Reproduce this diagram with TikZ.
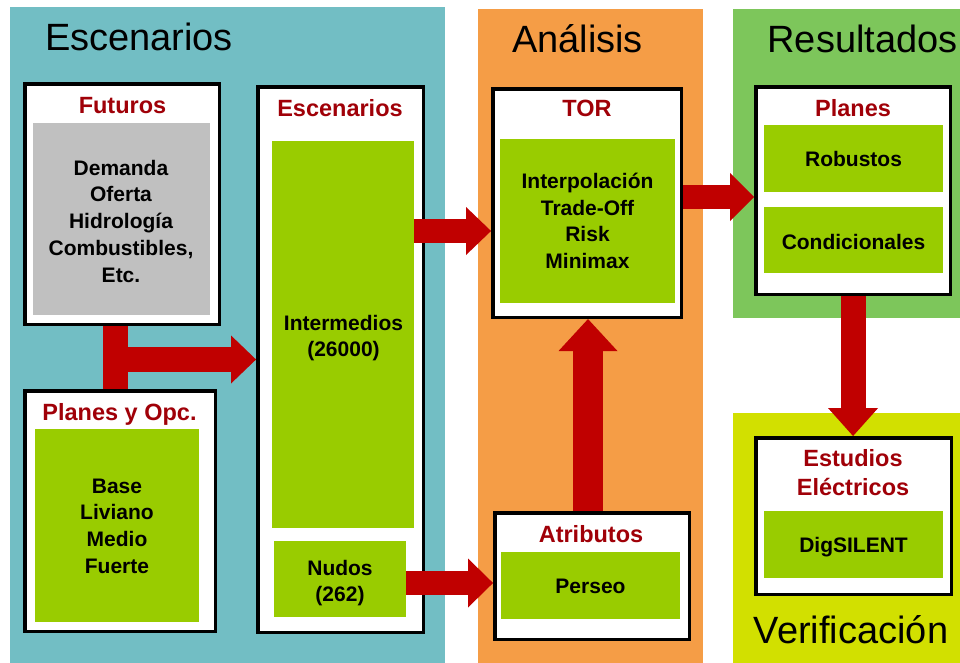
\documentclass[tikz,border=0pt]{standalone}
\usepackage{fontspec}
\setmainfont{Liberation Sans}
\usetikzlibrary{arrows.meta,calc}
\definecolor{pteal}{HTML}{72BEC4}
\definecolor{porange}{HTML}{F59D46}
\definecolor{pgreen}{HTML}{7DC65B}
\definecolor{pyellow}{HTML}{D2E000}
\definecolor{igreen}{HTML}{99CC00}
\definecolor{igray}{HTML}{C0C0C0}
\definecolor{ared}{HTML}{C00000}
\definecolor{lred}{HTML}{A00008}
\tikzset{
  whitebox/.style={draw=black, line width=3.5pt, fill=white, inner sep=0pt, outer sep=0pt, anchor=north west},
  innerbox/.style={fill=igreen, draw=none, inner sep=0pt, outer sep=0pt, anchor=north west},
  lbl/.style={text=lred, font=\fontsize{23.5}{29}\selectfont\bfseries, align=center, inner sep=0pt},
  txt/.style={font=\fontsize{21}{26.75}\selectfont\bfseries, align=center, inner sep=0pt},
  ttl/.style={font=\fontsize{38}{40}\selectfont, anchor=base, inner sep=0pt},
  blockarrow/.style n args={3}{draw=ared, line width=#1, line cap=butt,
     -{Triangle[width=#2, length=#3, line width=0pt]}},
  bar/.style={draw=ared, line width=25pt, line cap=butt}
}
\begin{document}
\begin{tikzpicture}[x=1pt,y=-1pt]
\useasboundingbox (0,0) rectangle (960,663);
% panels
\fill[pteal] (10,7) rectangle (445,663);
\fill[porange] (478,9) rectangle (703,663);
\fill[pgreen] (733,9) rectangle (960,318);
\fill[pyellow] (733,413) rectangle (960,663);
% titles
\node[ttl] (t1) at (139,51) {Escenarios};
\node[ttl] (t2) at (577.5,53) {Análisis};
\node[ttl] (t3) at (862.5,53) {Resultados};
\node[ttl] (t4) at (851,643) {Verificación};
% Futuros
\node[whitebox, minimum width=194.5pt, minimum height=240.5pt] (fut) at (24.8,83.8) {};
\node[innerbox, fill=igray, minimum width=177pt, minimum height=192pt] (futin) at (33,123) {};
\node[lbl, anchor=base] (futl) at (122.5,114) {Futuros};
\node[txt] (futt) at (121,221) {Demanda\\Oferta\\Hidrología\\Combustibles,\\Etc.};
% Planes y Opc.
\node[whitebox, minimum width=190.5pt, minimum height=240.5pt] (plo) at (24.8,390.8) {};
\node[innerbox, minimum width=164pt, minimum height=193pt] (ploin) at (35,429) {};
\node[lbl, anchor=base] (plol) at (119.5,420) {Planes y Opc.};
\node[txt] (plot) at (117,526) {Base\\Liviano\\Medio\\Fuerte};
% Escenarios
\node[whitebox, minimum width=165.5pt, minimum height=545.5pt] (esc) at (257.8,86.8) {};
\node[innerbox, minimum width=142pt, minimum height=387pt] (intm) at (272,141) {};
\node[innerbox, minimum width=132pt, minimum height=76pt] (nud) at (274,541) {};
\node[lbl, anchor=base] (escl) at (340,117) {Escenarios};
\node[txt] (intt) at (343.5,338) {Intermedios\\(26000)};
\node[txt] (nudt) at (340,583) {Nudos\\(262)};
% TOR
\node[whitebox, minimum width=188.5pt, minimum height=228.5pt] (tor) at (492.8,88.8) {};
\node[innerbox, minimum width=175pt, minimum height=164pt] (torin) at (500,139) {};
\node[lbl, anchor=base] (torl) at (587,117) {TOR};
\node[txt] (tort) at (587.5,221) {Interpolación\\Trade-Off\\Risk\\Minimax};
% Atributos
\node[whitebox, minimum width=194.5pt, minimum height=126.5pt] (atr) at (494.8,512.8) {};
\node[innerbox, minimum width=179pt, minimum height=67pt] (atrin) at (501,552) {};
\node[lbl, anchor=base] (atrl) at (591,542) {Atributos};
\node[txt, anchor=base] (atrt) at (590.5,593) {Perseo};
% Planes
\node[whitebox, minimum width=194.5pt, minimum height=207.5pt] (pl) at (755.8,86.8) {};
\node[innerbox, minimum width=179pt, minimum height=67pt] (rob) at (764,125) {};
\node[innerbox, minimum width=179pt, minimum height=66pt] (cond) at (764,207) {};
\node[lbl, anchor=base] (pll) at (853,117) {Planes};
\node[txt, anchor=base] (robt) at (853.5,167) {Robustos};
\node[txt, anchor=base] (condt) at (853.5,249) {Condicionales};
% Estudios Electricos
\node[whitebox, minimum width=195.5pt, minimum height=156.5pt] (est) at (755.8,437.8) {};
\node[innerbox, minimum width=179pt, minimum height=67pt] (dig) at (764,511) {};
\node[lbl] (estl) at (853,473) {Estudios\\Eléctricos};
\node[txt, anchor=base] (digt) at (853.5,552) {DigSILENT};
% connectors
\coordinate (j) at (115.5,359.5);
\coordinate (ya) at (0,231);
\coordinate (yb) at (0,583);
\coordinate (yc) at (0,197);
\coordinate (xd) at (588,0);
\draw[bar, shorten <=1.75pt, shorten >=1.75pt] (fut.south -| j) -- (plo.north -| j);
\draw[blockarrow={25pt}{48pt}{25pt}, shorten >=1.75pt] (j) -- (esc.west |- j);
\draw[blockarrow={24pt}{48pt}{25pt}, shorten >=1.75pt] (intm.east |- ya) -- (tor.west |- ya);
\draw[blockarrow={24pt}{49pt}{25pt}, shorten >=1.75pt] (nud.east |- yb) -- (atr.west |- yb);
\draw[blockarrow={30pt}{59pt}{32pt}, shorten <=1.75pt, shorten >=1.75pt] (atr.north -| xd) -- (tor.south -| xd);
\draw[blockarrow={24pt}{48pt}{24pt}, shorten <=1.75pt, shorten >=1.75pt] (tor.east |- yc) -- (pl.west |- yc);
\draw[blockarrow={25pt}{50pt}{28pt}, shorten <=1.75pt, shorten >=1.75pt] (pl.south) -- (pl.south |- est.north);
\end{tikzpicture}
\end{document}
